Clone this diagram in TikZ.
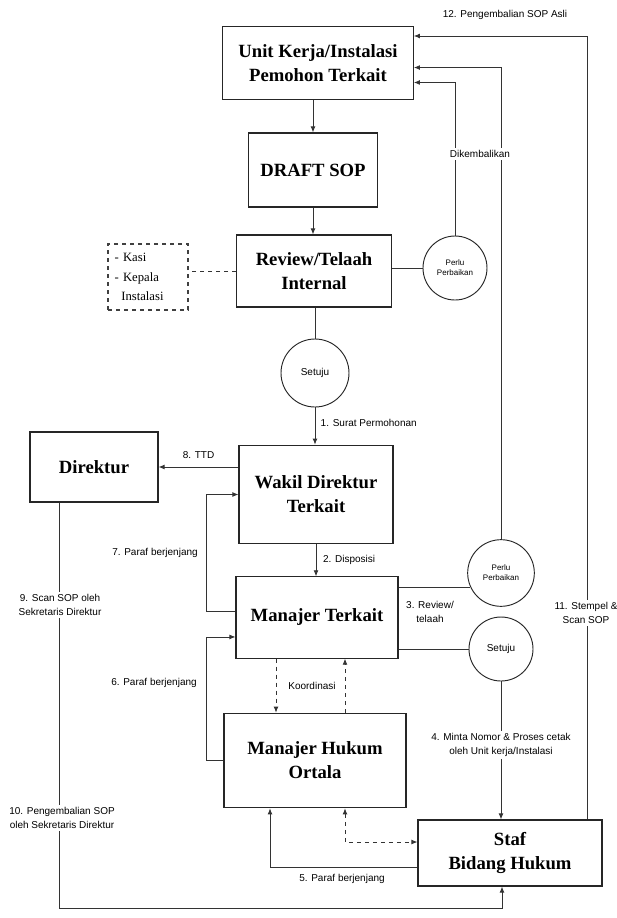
\documentclass[tikz,border=0pt]{standalone}
\usepackage{fontspec}
\setmainfont{Liberation Serif}
\newfontfamily\lblfont{Liberation Sans}
\usetikzlibrary{positioning,arrows.meta,shapes.geometric}

\begin{document}
\begin{tikzpicture}[
    x=0.75pt, y=-0.75pt,
    % process boxes (bold serif names)
    box/.style={draw=black!85, line width=0.8pt, align=center, inner sep=2pt,
                font=\fontsize{14}{18}\selectfont\bfseries},
    kbox/.style={draw=black!75, line width=0.8pt, dashed, align=left, inner xsep=5pt,
                 text width=50pt, font=\fontsize{9.5}{14.5}\selectfont},
    % decision circles
    dec/.style={circle, draw=black!85, line width=0.7pt, inner sep=0pt, align=center,
                font=\lblfont\fontsize{7.5}{9}\selectfont},
    decs/.style={dec, font=\lblfont\fontsize{6}{7.5}\selectfont},
    % connector labels
    lbl/.style={font=\lblfont\fontsize{7.5}{10}\selectfont, inner sep=1pt, align=center},
    lblw/.style={lbl, fill=white, inner sep=2pt},
    conn/.style={line width=0.6pt, draw=black!80},
    arr/.style={conn, -{Latex[length=4.5pt,width=3.6pt]}},
    darr/.style={arr, dashed}
  ]
  \useasboundingbox (0,0) rectangle (617,918);

  % ===================== main column =====================
  \node[box, minimum width=143pt, minimum height=55pt] (unit) at (318,63)
    {Unit Kerja/Instalasi\\Pemohon Terkait};
  \node[box, minimum width=97pt, minimum height=55.5pt] (draft) at (313,170) {DRAFT SOP};
  \node[box, minimum width=116pt, minimum height=54pt] (review) at (314,271)
    {Review/Telaah\\Internal};
  \node[kbox, minimum height=49.5pt] (kasi) at (148,277)
    {- Kasi\\- Kepala\\\hspace*{5pt}Instalasi};
  \node[dec, minimum size=51pt] (setuju1) at (315,373) {Setuju};
  \node[box, minimum width=115.5pt, minimum height=74pt] (wakil) at (316,494.5)
    {Wakil Direktur\\Terkait};
  \node[box, minimum width=96pt, minimum height=52.5pt] (direktur) at (94,467) {Direktur};
  \node[box, minimum width=121.5pt, minimum height=61pt] (manajer) at (317,617.5)
    {Manajer Terkait};
  \node[box, minimum width=136.5pt, minimum height=71pt] (mhukum) at (315,760.5)
    {Manajer Hukum\\Ortala};
  \node[box, minimum width=138pt, minimum height=49.5pt] (staf) at (510,853)
    {Staf\\Bidang Hukum};

  % ===================== decisions on the right =====================
  \node[decs, minimum size=48pt] (perlu1) at (455,268) {Perlu\\Perbaikan};
  \node[decs, minimum size=50pt] (perlu2) at (501,573) {Perlu\\Perbaikan};
  \node[dec, minimum size=48pt] (setuju2) at (501,649) {Setuju};

  % ===================== connectors =====================
  \draw[arr] (draft.north |- unit.south) -- (draft.north);
  \draw[arr] (draft.south) -- (draft.south |- review.north);
  \draw[conn, dashed] (review.west) -- (review.west -| kasi.east);
  \draw[conn] (perlu1.west -| review.east) -- (perlu1.west);
  \draw[conn] (setuju1.north |- review.south) -- (setuju1.north);
  \draw[arr] (setuju1.south) -- node[lbl, anchor=west, pos=0.42, xshift=3pt] {1. Surat Permohonan}
    (setuju1.south |- wakil.north);
  \draw[arr] (direktur.east -| wakil.west) -- node[lbl, above=5pt] {8. TTD} (direktur.east);
  \draw[arr] (wakil.south) -- node[lbl, anchor=west, xshift=4pt] {2. Disposisi}
    (wakil.south |- manajer.north);

  % paraf berjenjang loops on the left
  \draw[arr] ([yshift=4.9pt]manajer.west) -- ++(-29,0) |- (wakil.west);
  \node[lbl] (paraf7) at (155,553) {7. Paraf berjenjang};
  \draw[arr] (mhukum.west) -- ++(-17,0) |- ([yshift=-14.6pt]manajer.west);
  \node[lbl] (paraf6) at (154,683) {6. Paraf berjenjang};

  % koordinasi
  \coordinate (mtk) at ([xshift=-30.75pt]manajer.south);
  \coordinate (mhk) at ([xshift=22.5pt]mhukum.north);
  \draw[darr] (mtk) -- (mtk |- mhukum.north);
  \draw[darr] (mhk) -- (mhk |- manajer.south);
  \node[lbl] (koord) at (312,686) {Koordinasi};

  % review / telaah
  \draw[conn] (manajer.east |- perlu2.205) -- (perlu2.205);
  \draw[conn] (setuju2.west -| manajer.east) -- (setuju2.west);
  \node[lbl] (rev3) at (430,612) {3. Review/\\telaah};

  % returns to the unit
  \draw[arr] (perlu1.north) |- ([yshift=-14.6pt]unit.east);
  \draw[arr] (perlu2.north) |- ([yshift=-3.4pt]unit.east);
  \node[lblw] (kembali) at (480,154) {Dikembalikan};
  \draw[arr] ([xshift=57.75pt]staf.north) |- ([yshift=20.25pt]unit.east);
  \node[lbl] (asli) at (505,15) {12. Pengembalian SOP Asli};
  \node[lblw] (stempel) at (586,613) {11. Stempel \&\\Scan SOP};

  \draw[arr] (setuju2.south) -- (setuju2.south |- staf.north);
  \node[lblw] (minta) at (501,745) {4. Minta Nomor \& Proses cetak\\oleh Unit kerja/Instalasi};

  % staf <-> manajer hukum
  \coordinate (mhs) at ([xshift=-33.75pt]mhukum.south);
  \coordinate (mhd) at ([xshift=22.5pt]mhukum.south);
  \draw[arr] ([yshift=-10.5pt]staf.west) -| (mhs);
  \node[lbl] (paraf5) at (342,879) {5. Paraf berjenjang};
  \draw[darr, {Latex[length=4.5pt,width=3.6pt]}-{Latex[length=4.5pt,width=3.6pt]}]
    (mhd) |- ([yshift=8.25pt]staf.west);

  % direktur back to staf
  \coordinate (bl) at (59,908);
  \coordinate (sb) at ([xshift=-6pt]staf.south);
  \draw[arr] ([xshift=-26.25pt]direktur.south) |- (sb |- bl) -- (sb);
  \node[lblw] (scan9) at (60,605) {9. Scan SOP oleh\\Sekretaris Direktur};
  \node[lblw] (kembali10) at (62,818) {10. Pengembalian SOP\\oleh Sekretaris Direktur};

\end{tikzpicture}
\end{document}
